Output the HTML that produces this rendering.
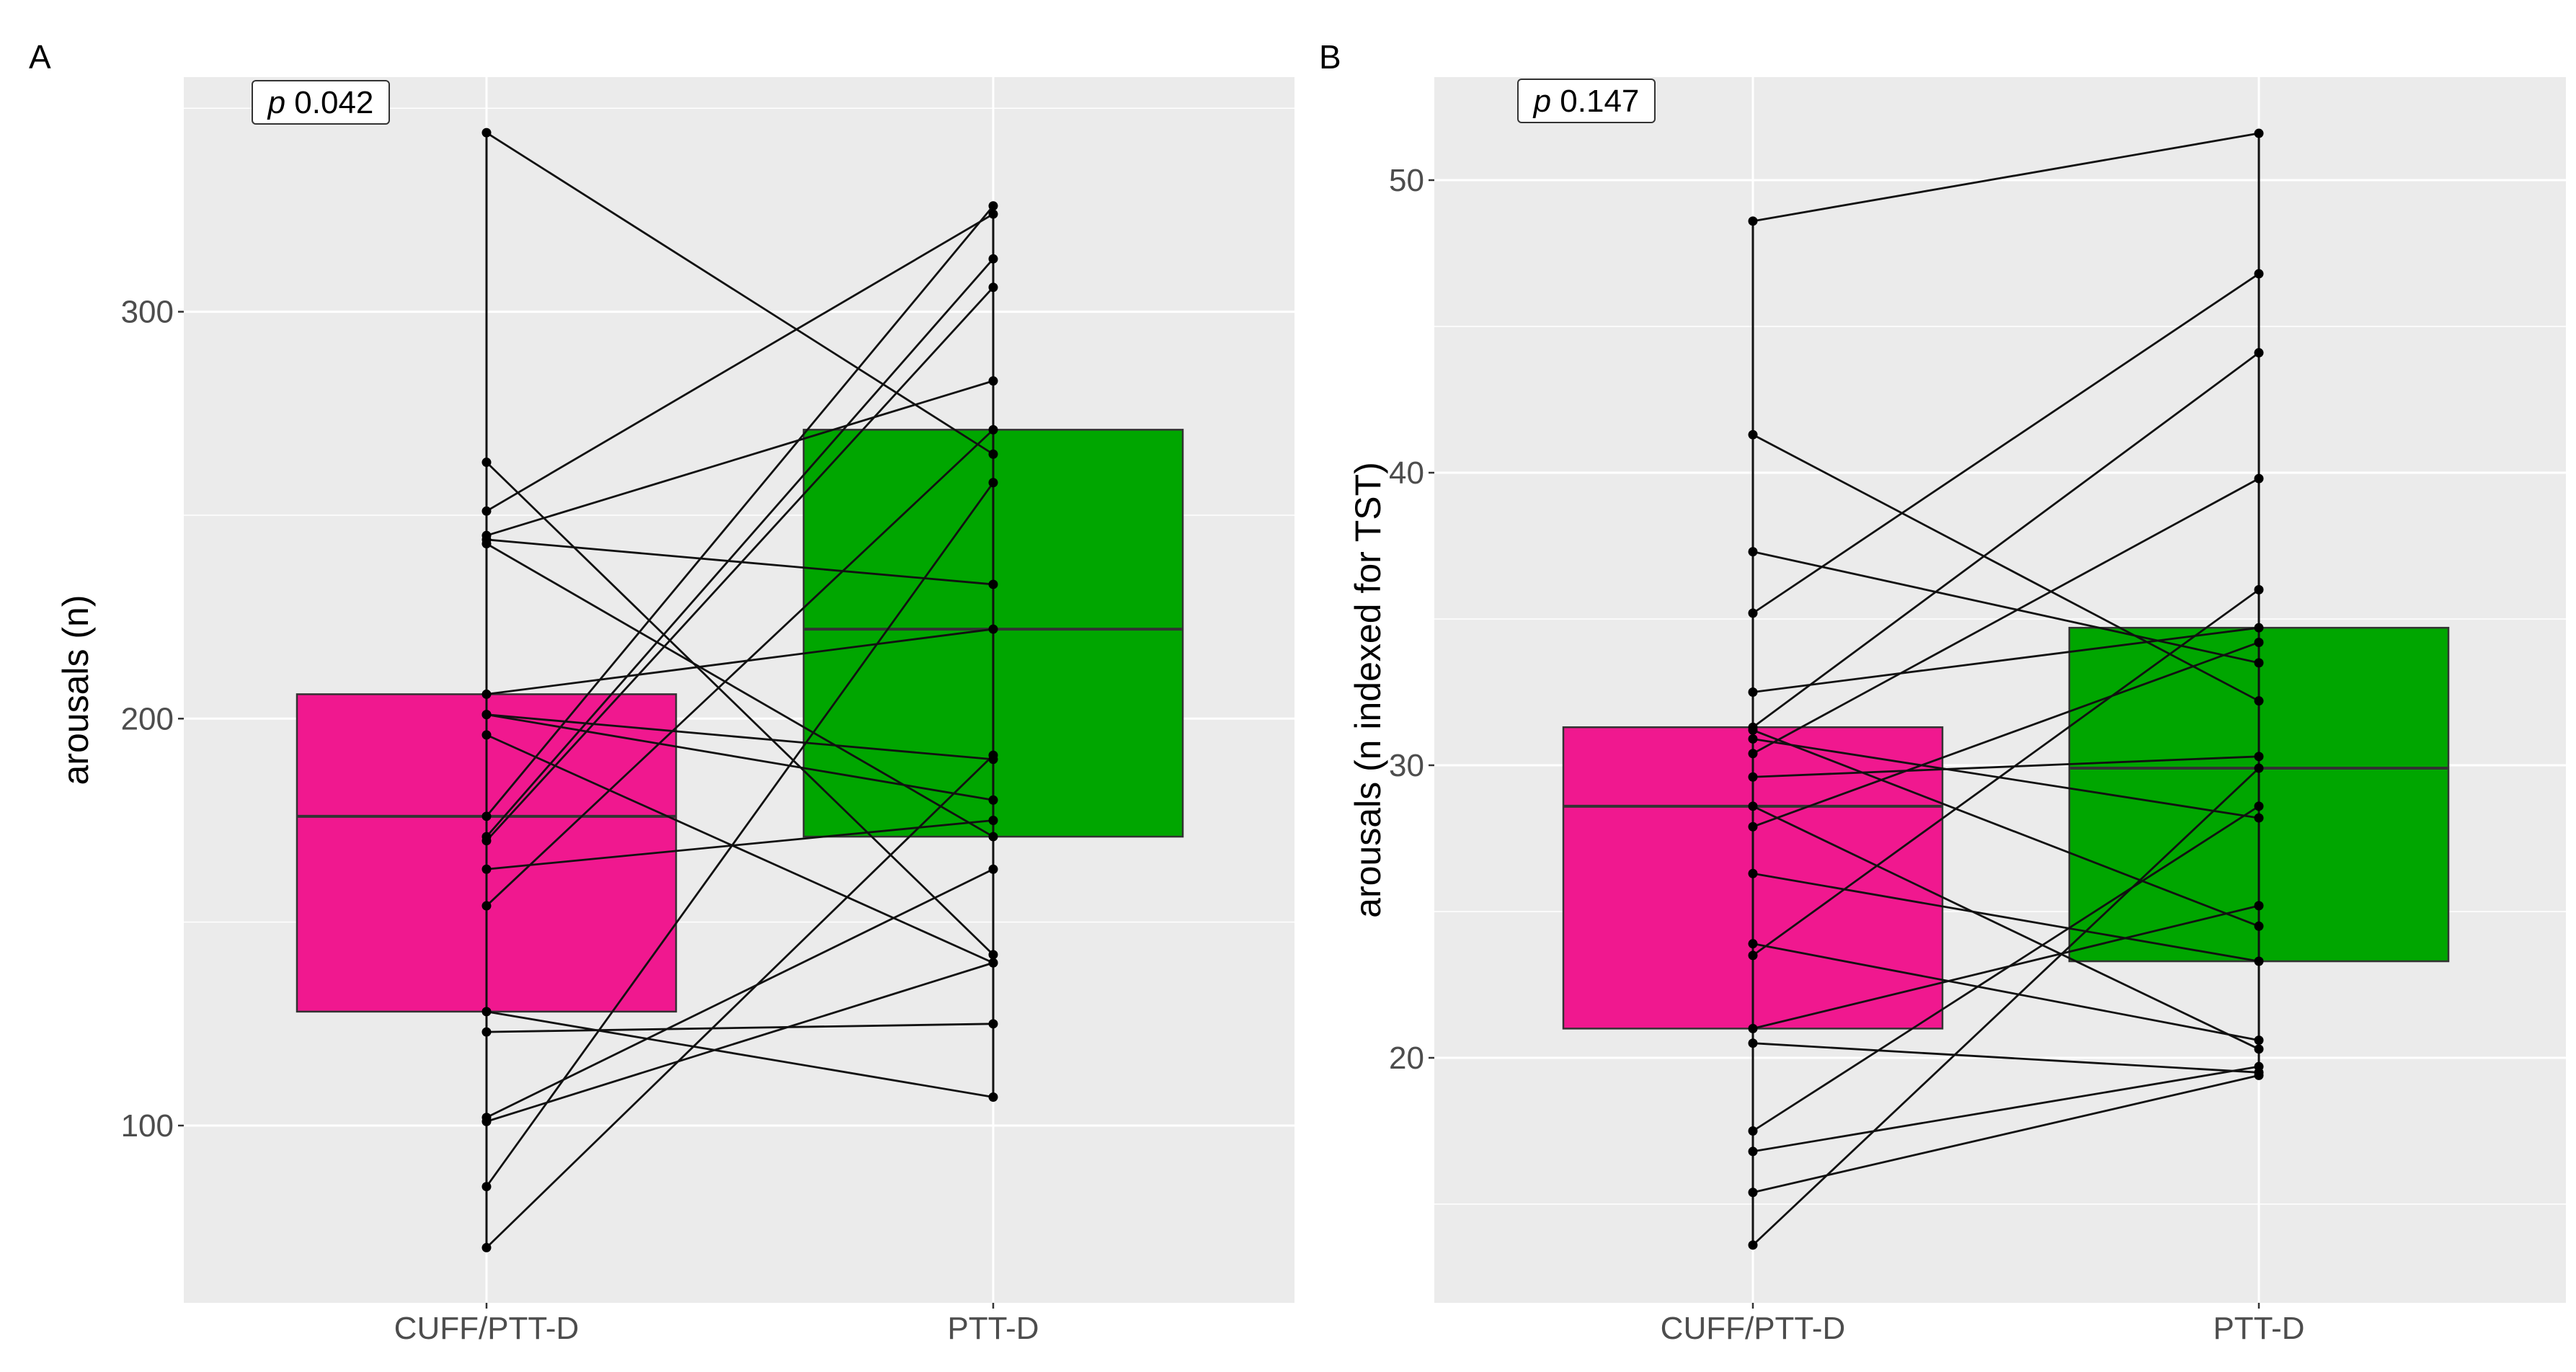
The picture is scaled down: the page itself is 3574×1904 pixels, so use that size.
<!DOCTYPE html>
<html><head><meta charset="utf-8"><style>
html,body{margin:0;padding:0;background:#fff}
svg{display:block;font-family:"Liberation Sans",sans-serif}
</style></head><body>
<svg id="chart" width="3574" height="1904" viewBox="0 0 3574 1904" xmlns="http://www.w3.org/2000/svg"></svg>
<script>
// Panel A data
const categories = ["CUFF/PTT-D", "PTT-D"];
const aTicks = [100, 200, 300];
const aMinor = [150, 250, 350];
const aBoxCuff = [128, 176, 206];
const aBoxPtt = [171, 222, 271];
const aCuff = [344,263,251,245,244,243,206,201,201,196,176,171,170,163,154,128,123,102,101,85,70];
const aPtt  = [265,142,324,283,233,171,222,190,180,140,326,313,306,175,271,107,125,163,140,258,191];
// Panel B data
const bTicks = [20, 30, 40, 50];
const bMinor = [15, 25, 35, 45];
const bBoxCuff = [21.0, 28.6, 31.3];
const bBoxPtt = [23.3, 29.9, 34.7];
const bCuff = [48.6,41.3,37.3,35.2,32.5,31.3,31.2,30.9,30.4,29.6,28.6,27.9,26.3,23.9,23.5,21.0,20.5,16.8,15.4,13.6,17.5];
const bPtt  = [51.6,32.2,33.5,46.8,34.7,44.1,24.5,28.2,39.8,30.3,20.3,34.2,23.3,20.6,36.0,25.2,19.5,19.7,19.4,29.9,28.6];

const NS = "http://www.w3.org/2000/svg";
const svg = document.getElementById('chart');
function mk(tag, attrs, parent, text){
  const e = document.createElementNS(NS, tag);
  for (const k in attrs) e.setAttribute(k, attrs[k]);
  if (text !== undefined) e.textContent = text;
  (parent || svg).appendChild(e);
  return e;
}

function panel(cfg){
  const g = mk('g', {});
  
  
  const y = v => cfg.y0px - (v - cfg.v0) * cfg.pxPerUnit;
  const xc = [cfg.xCuff, cfg.xPtt];
  const bg = mk('rect', {x:cfg.left, y:cfg.top, width:cfg.right-cfg.left, height:cfg.bottom-cfg.top, fill:'#ebebeb'}, g);
  
  
  cfg.minor.forEach(v => {
    const l = mk('line', {x1:cfg.left, x2:cfg.right, y1:y(v), y2:y(v), stroke:'#fff', 'stroke-width':1.5}, g);
    
    
  });
  cfg.ticks.forEach(v => {
    const l = mk('line', {x1:cfg.left, x2:cfg.right, y1:y(v), y2:y(v), stroke:'#fff', 'stroke-width':3}, g);
    
    
    const tk = mk('line', {x1:cfg.left-8, x2:cfg.left, y1:y(v), y2:y(v), stroke:'#333', 'stroke-width':2.5}, g);
    
    
    const t = mk('text', {x:cfg.left-14, y:y(v)+15, 'text-anchor':'end', 'font-size':44, fill:'#4d4d4d'}, g, String(v));
    
    
  });
  xc.forEach((x, i) => {
    const l = mk('line', {x1:x, x2:x, y1:cfg.top, y2:cfg.bottom, stroke:'#fff', 'stroke-width':3}, g);
    
    
    const tk = mk('line', {x1:x, x2:x, y1:cfg.bottom, y2:cfg.bottom+8, stroke:'#333', 'stroke-width':2.5}, g);
    
    
    const t = mk('text', {x:x, y:cfg.bottom+50, 'text-anchor':'middle', 'font-size':44, fill:'#4d4d4d'}, g, categories[i]);
    
    
  });
  [[cfg.boxCuff, '#f0188f', 0], [cfg.boxPtt, '#00a600', 1]].forEach(([b, col, i]) => {
    const hw = cfg.boxHalf;
    const r = mk('rect', {x:xc[i]-hw, y:y(b[2]), width:2*hw, height:y(b[0])-y(b[2]), fill:col, stroke:'#333', 'stroke-width':2.5}, g);
    
    
    const m = mk('line', {x1:xc[i]-hw, x2:xc[i]+hw, y1:y(b[1]), y2:y(b[1]), stroke:'#333', 'stroke-width':4}, g);
    
    
  });
  [cfg.cuff, cfg.ptt].forEach((arr, i) => {
    const l = mk('line', {x1:xc[i], x2:xc[i], y1:y(Math.max(...arr)), y2:y(Math.min(...arr)), stroke:'#111', 'stroke-width':3}, g);
    
    
  });
  cfg.cuff.forEach((v, i) => {
    const l = mk('line', {x1:xc[0], y1:y(v), x2:xc[1], y2:y(cfg.ptt[i]), stroke:'#111', 'stroke-width':2.8}, g);
    
    
  });
  cfg.cuff.forEach((v, i) => {
    const p1 = mk('circle', {cx:xc[0], cy:y(v), r:6.5, fill:'#000'}, g);
    
    
    const p2 = mk('circle', {cx:xc[1], cy:y(cfg.ptt[i]), r:6.5, fill:'#000'}, g);
    
    
  });
  const tt = mk('text', {x:0, y:0, 'text-anchor':'middle', 'font-size':50, fill:'#000',
    transform:`translate(${cfg.titleX},${(cfg.top+cfg.bottom)/2}) rotate(-90)`}, g, cfg.yTitle);
  
  
  const pb = mk('rect', {x:cfg.pX, y:cfg.pY, width:190, height:60, rx:5, fill:'#fff', stroke:'#333', 'stroke-width':2}, g);
  
  
  const pt = mk('text', {x:cfg.pX+95, y:cfg.pY+45, 'text-anchor':'middle', 'font-size':44, fill:'#000'}, g);
  
  
  mk('tspan', {'font-style':'italic'}, pt, 'p');
  mk('tspan', {}, pt, ' ' + cfg.pText);
  const pl = mk('text', {x:cfg.labelX, y:95, 'font-size':46, fill:'#000'}, g, cfg.label);
  
  
}

panel({name:'panel-a', left:255, right:1796, top:107, bottom:1808, v0:100, y0px:1562, pxPerUnit:5.647,
  xCuff:675, xPtt:1378, boxHalf:263, ticks:aTicks, minor:aMinor, boxCuff:aBoxCuff, boxPtt:aBoxPtt,
  cuff:aCuff, ptt:aPtt, yTitle:'arousals (n)', titleX:122, pX:350, pY:112, pText:'0.042', label:'A', labelX:40});
panel({name:'panel-b', left:1990, right:3560, top:107, bottom:1808, v0:20, y0px:1468, pxPerUnit:40.6,
  xCuff:2432, xPtt:3134, boxHalf:263, ticks:bTicks, minor:bMinor, boxCuff:bBoxCuff, boxPtt:bBoxPtt,
  cuff:bCuff, ptt:bPtt, yTitle:'arousals (n indexed for TST)', titleX:1915, pX:2106, pY:110, pText:'0.147', label:'B', labelX:1830});
</script>
</body></html>
